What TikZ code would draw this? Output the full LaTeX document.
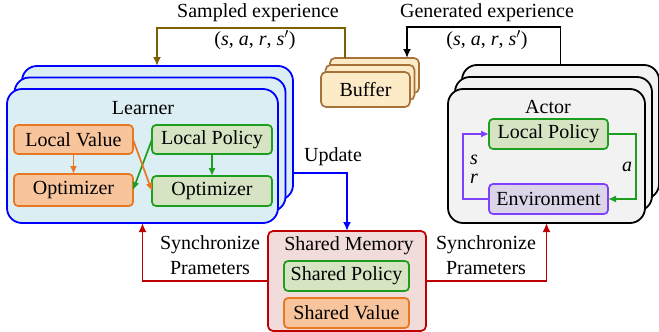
\documentclass[tikz,border=0pt]{standalone}
\usepackage{fontspec}
\setmainfont{Liberation Serif}
\usetikzlibrary{arrows.meta}
\definecolor{lbfill}{HTML}{DBEEF4}
\definecolor{lbblue}{HTML}{0000FF}
\definecolor{orb}{HTML}{E87722}
\definecolor{orf}{HTML}{F8C49C}
\definecolor{grb}{HTML}{1E9E1E}
\definecolor{grf}{HTML}{D6E4C4}
\definecolor{rdb}{HTML}{C00000}
\definecolor{rdf}{HTML}{F2DCDB}
\definecolor{pub}{HTML}{7F3FFF}
\definecolor{puf}{HTML}{DCD5E8}
\definecolor{acf}{HTML}{F2F2F2}
\definecolor{buf}{HTML}{FDEBC8}
\definecolor{bub}{HTML}{A6723A}
\definecolor{olv}{HTML}{7F6000}
\newcommand{\mvar}[1]{\textit{#1}}
\begin{document}
\begin{tikzpicture}[x=1pt,y=-1pt,
  font=\rmfamily\fontsize{20}{24}\selectfont,
  every node/.style={inner sep=0pt,outer sep=0pt},
  bigbox/.style={draw,line width=1.8pt,rounded corners=15pt},
  learnerbox/.style={bigbox,draw=lbblue,fill=lbfill,minimum width=271pt,minimum height=134pt},
  actorbox/.style={bigbox,draw=black,fill=acf,minimum width=197pt,minimum height=134pt},
  bufbox/.style={draw=bub,fill=buf,line width=1.7pt,rounded corners=5pt,minimum width=89pt,minimum height=35pt},
  smallbox/.style={line width=1.7pt,rounded corners=4pt,minimum height=30pt},
  orbox/.style={smallbox,draw=orb,fill=orf},
  grbox/.style={smallbox,draw=grb,fill=grf},
  pubox/.style={smallbox,draw=pub,fill=puf},
  arr/.style={line width=1.8pt,-{Latex[length=9pt,width=8pt]}},
  arrs/.style={line width=1.7pt,-{Latex[length=8pt,width=7pt]}},
]
\useasboundingbox (0,0) rectangle (659,332);

% Learner stack
\node[learnerbox] (lb3) at (157.5,133) {};
\node[learnerbox] (lb2) at (150,144.5) {};
\node[learnerbox] (lb1) at (142.5,156) {};
\node (ltitle) at (143,108) {Learner};
\node[orbox,minimum width=119pt,minimum height=29pt] (lv) at (73.5,139.5) {Local Value};
\node[grbox,minimum width=120pt,minimum height=29pt] (lp) at (212,139.5) {Local Policy};
\node[orbox,minimum width=119pt,minimum height=32pt] (oo) at (73.5,190) {Optimizer};
\node[grbox,minimum width=120pt] (og) at (212,191) {Optimizer};
\draw[arrs,draw=orb] (lv.south) -- (oo.north);
\draw[arrs,draw=grb] (lp.south) -- (og.north);
\draw[arrs,draw=grb] (lp.west) -- (oo.east);
\draw[arrs,draw=orb] (lv.east) -- (og.west);

% Buffer stack
\node[bufbox] (bb3) at (374.5,75.5) {};
\node[bufbox] (bb2) at (370,82.5) {};
\node[bufbox] (bb1) at (365.5,89.5) {Buffer};

% Actor stack
\node[actorbox] (ab3) at (560.5,132) {};
\node[actorbox] (ab2) at (553.5,144) {};
\node[actorbox] (ab1) at (546.5,156) {};
\node (atitle) at (548,107) {Actor};
\node[grbox,minimum width=119pt] (alp) at (548.5,134) {Local Policy};
\node[pubox,minimum width=119pt] (env) at (548.5,199) {Environment};
\draw[arrs,draw=grb] (alp.east) -- ++(28,0) |- (env.east);
\draw[arrs,draw=pub] (env.west) -- ++(-26,0) |- (alp.west);
\node (la) at (627,167) {\mvar{a}};
\node (ls) at (474,160) {\mvar{s}};
\node (lr) at (474,179) {\mvar{r}};

% Shared memory
\node[draw=rdb,fill=rdf,line width=1.7pt,rounded corners=5pt,minimum width=158pt,minimum height=100pt] (sm) at (347,281) {};
\node (smt) at (349,246) {Shared Memory};
\node[grbox,minimum width=125pt] (sp) at (346.5,276) {Shared Policy};
\node[orbox,minimum width=125pt] (sv) at (346.5,313) {Shared Value};

% Update
\draw[arr,draw=lbblue] ([yshift=-40pt]lb3.east) -| (sm.north);
\node (upd) at (333,157) {Update};

% Synchronize
\draw[arr,draw=rdb] (sm.west) -| (lb1.south);
\draw[arr,draw=rdb] (sm.east) -| (ab1.south);
\node[align=center,font=\rmfamily\fontsize{20}{25}\selectfont] (syl) at (210,255) {Synchronize\\Prameters};
\node[align=center,font=\rmfamily\fontsize{20}{25}\selectfont] (syr) at (486,255) {Synchronize\\Prameters};

% Generated experience
\coordinate (gc) at (407,27);
\draw[arr] (ab3.north) |- (gc) -- (gc |- bb3.north);
\node (gl) at (487,13) {Generated experience};
\node (gm) at (487,40) {(\mvar{s}, \mvar{a}, \mvar{r}, \mvar{s}$'$)};

% Sampled experience
\coordinate (sa) at (345,28);
\coordinate (sb) at (157,28);
\draw[arr,draw=olv] (sa |- bb3.north) -- (sa) -- (sb) -- (sb |- lb3.north);
\node (sl) at (258,13) {Sampled experience};
\node (sm2) at (255,40) {(\mvar{s}, \mvar{a}, \mvar{r}, \mvar{s}$'$)};
\end{tikzpicture}
\end{document}
